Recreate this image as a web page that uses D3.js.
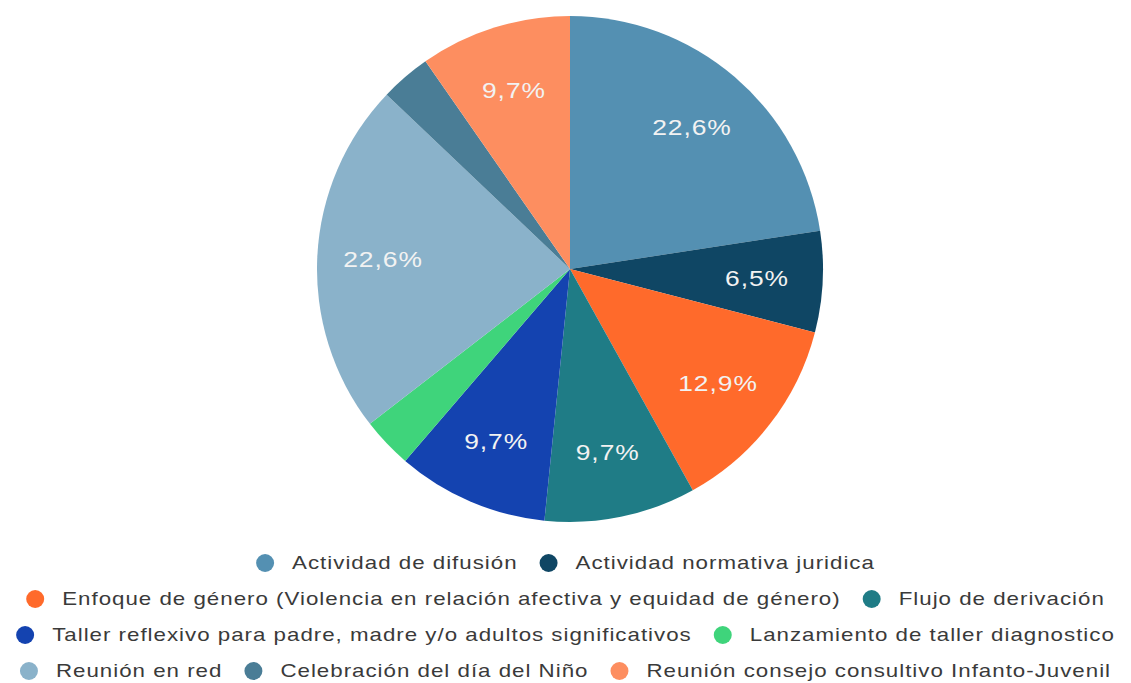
<!DOCTYPE html>
<html>
<head>
<meta charset="utf-8">
<script src="https://cdn.jsdelivr.net/npm/d3@7"></script>
<style>
  body { margin: 0; background: #fff; }
  svg { display: block; }
</style>
</head>
<body>
<div id="chart"></div>
<script>
// categories and counts (31 activities in total)
const categories = [
    'Actividad de difusión',
    'Actividad normativa juridica',
    'Enfoque de género (Violencia en relación afectiva y equidad de género)',
    'Flujo de derivación',
    'Taller reflexivo para padre, madre y/o adultos significativos',
    'Lanzamiento de taller diagnostico',
    'Reunión en red',
    'Celebración del día del Niño',
    'Reunión consejo consultivo Infanto-Juvenil'
];
const counts = [7, 2, 4, 3, 3, 1, 7, 1, 3];
const colors = ['#5490b2', '#0f4664', '#ff6a2b', '#1f7c86', '#1443b0', '#3fd47b', '#8ab2ca', '#4a7d96', '#fd8e60'];

const width = 1131, height = 683;
const cx = 570, cy = 269, radius = 253;
const stretch = 1.24; // the original text is drawn wide

const svg = d3.select('#chart')
    .append('svg')
    .attr('width', width)
    .attr('height', height);

const data = categories.map((c, i) => ({name: c, value: counts[i], color: colors[i]}));
const total = d3.sum(counts);

const pie = d3.pie().sort(null).value(d => d.value);
const arc = d3.arc().innerRadius(0).outerRadius(radius);
const labelArc = d3.arc().innerRadius(radius * 0.74).outerRadius(radius * 0.74);

const g = svg.append('g').attr('transform', `translate(${cx},${cy})`);

const arcs = pie(data);

g.selectAll('path')
    .data(arcs)
    .enter()
    .append('path')
    .attr('d', arc)
    .attr('fill', d => d.data.color);

const fmt = v => d3.format('.1f')(v).replace('.', ',') + '%';

// only label slices big enough
g.selectAll('.pct')
    .data(arcs.filter(d => d.data.value / total > 0.05))
    .enter()
    .append('text')
    .attr('class', 'pct')
    .attr('transform', d => `translate(${labelArc.centroid(d)}) scale(1.2,1)`)
    .attr('text-anchor', 'middle')
    .attr('dy', '0.35em')
    .attr('font-family', 'Liberation Sans, Arial, sans-serif')
    .attr('font-size', '22px')
    .attr('letter-spacing', '0.8px')
    .attr('fill', '#f2f2f2')
    .text(d => fmt(d.data.value / total * 100));

// Legend: flow layout, centered rows
const legendFont = 18;
const legend = svg.append('g').attr('class', 'legend');
const items = legend.selectAll('g.item')
    .data(data)
    .enter()
    .append('g')
    .attr('class', 'item');

items.append('circle')
    .attr('r', 9)
    .attr('cx', 0)
    .attr('cy', 0)
    .attr('fill', d => d.color);

items.append('text')
    .attr('transform', `translate(27,0) scale(${stretch},1)`)
    .attr('dy', '0.35em')
    .attr('font-family', 'Liberation Sans, Arial, sans-serif')
    .attr('font-size', legendFont + 'px')
    .attr('letter-spacing', '0.8px')
    .attr('fill', '#3a3a3a')
    .text(d => d.name);

const gap = 22, maxW = 1125, rowH = 36, firstRow = 563;
const widths = [];
items.each(function() {
    const t = d3.select(this).select('text').node();
    widths.push(9 + 27 + t.getComputedTextLength() * stretch);
});

const rows = [];
let cur = [], curW = 0;
widths.forEach((w, i) => {
    const add = cur.length ? gap + w : w;
    if (cur.length && curW + add > maxW) {
        rows.push({idx: cur, w: curW});
        cur = [i]; curW = w;
    } else {
        cur.push(i); curW += add;
    }
});
rows.push({idx: cur, w: curW});

const nodes = items.nodes();
rows.forEach((row, r) => {
    let x = (width - row.w) / 2 + 9;
    row.idx.forEach(i => {
        d3.select(nodes[i]).attr('transform', `translate(${x},${firstRow + r * rowH})`);
        x += widths[i] + gap;
    });
});
</script>
</body>
</html>
